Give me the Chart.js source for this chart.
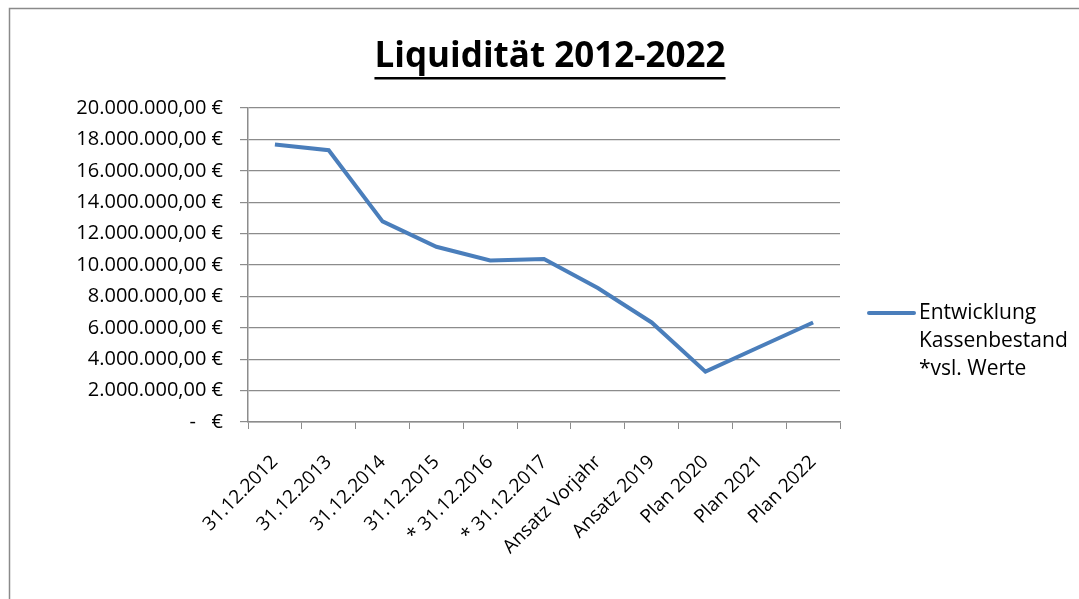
<!DOCTYPE html>
<html>
<head>
<meta charset="utf-8">
<script src="https://cdn.jsdelivr.net/npm/chart.js@4/dist/chart.umd.min.js"></script>
<style>
  html, body { margin: 0; padding: 0; background: #fff; }
  #wrap { width: 1079px; height: 599px; position: relative; }
</style>
</head>
<body>
<div id="wrap"><canvas id="chart" width="1079" height="599"></canvas></div>
<script>
// Daten
const chartTitle = "Liquidität 2012-2022";
const categories = [
  "31.12.2012", "31.12.2013", "31.12.2014", "31.12.2015", "* 31.12.2016",
  "* 31.12.2017", "Ansatz Vorjahr", "Ansatz 2019", "Plan 2020", "Plan 2021", "Plan 2022"
];
const kassenbestand = [
  17670000, 17310000, 12780000, 11160000, 10290000,
  10380000, 8530000, 6340000, 3210000, 4780000, 6340000
];
const legendLines = ["Entwicklung", "Kassenbestand", "*vsl. Werte"];
const yMin = 0;
const yMax = 20000000;
const yStep = 2000000;

const FONT = "'Open Sans', sans-serif";
const lineColor = "#4a7ebb";
const gridColor = "#8c8c8c";

// Euro-Format wie in Excel (Buchhaltung)
function euro(v) {
  if (v === 0) return "-   €";
  const s = v.toFixed(2).split(".");
  const int = s[0].replace(/\B(?=(\d{3})+(?!\d))/g, ".");
  return int + "," + s[1] + " €";
}

// Rahmen, Titel und Legende selbst zeichnen
const decoPlugin = {
  id: "deco",
  afterDraw(chart) {
    const ctx = chart.ctx;
    ctx.save();
    // Rahmen
    ctx.strokeStyle = "#8a8a8a";
    ctx.lineWidth = 1.5;
    ctx.strokeRect(9.5, 8.5, 1200, 1000);

    // Titel (fett, unterstrichen)
    ctx.font = "bold 35px " + FONT;
    ctx.fillStyle = "#000";
    ctx.textAlign = "center";
    ctx.textBaseline = "alphabetic";
    const tx = 550, ty = 67;
    ctx.fillText(chartTitle, tx, ty);
    const w = ctx.measureText(chartTitle).width;
    ctx.fillRect(tx - w / 2, ty + 10, w, 2.5);

    // Legende
    ctx.strokeStyle = lineColor;
    ctx.lineWidth = 4;
    ctx.lineCap = "round";
    ctx.beginPath();
    ctx.moveTo(869, 313);
    ctx.lineTo(914, 313);
    ctx.stroke();
    ctx.font = "21px " + FONT;
    ctx.textAlign = "left";
    ctx.textBaseline = "middle";
    ctx.fillStyle = "#000";
    legendLines.forEach((t, i) => ctx.fillText(t, 919, 313 + i * 28));
    ctx.restore();
  }
};

new Chart(document.getElementById("chart").getContext("2d"), {
  type: "line",
  data: {
    labels: categories,
    datasets: [{
      label: legendLines.join(" "),
      data: kassenbestand,
      borderColor: lineColor,
      borderWidth: 4,
      pointRadius: 0,
      tension: 0,
      fill: false
    }]
  },
  options: {
    responsive: false,
    animation: false,
    layout: { padding: { top: 108, right: 239, left: 0, bottom: 0 } },
    plugins: {
      legend: { display: false },
      title: { display: false },
      tooltip: { enabled: false }
    },
    scales: {
      x: {
        offset: true,
        grid: { display: true, drawOnChartArea: false, drawTicks: true, tickLength: 7, color: gridColor, offset: true },
        border: { display: true, color: gridColor, width: 1.5 },
        ticks: {
          color: "#000",
          font: { family: FONT, size: 19 },
          minRotation: 45,
          maxRotation: 45,
          padding: 22,
          autoSkip: false
        },
        afterFit(scale) { scale.height = 177; }
      },
      y: {
        min: yMin,
        max: yMax,
        grid: { color: gridColor, lineWidth: 1.2, tickLength: 8 },
        border: { display: true, color: gridColor, width: 1.5 },
        ticks: {
          stepSize: yStep,
          color: "#000",
          font: { family: FONT, size: 20 },
          padding: 17,
          callback: v => euro(v)
        },
        afterFit(scale) { scale.width = 248; }
      }
    }
  },
  plugins: [decoPlugin]
});
</script>
</body>
</html>
